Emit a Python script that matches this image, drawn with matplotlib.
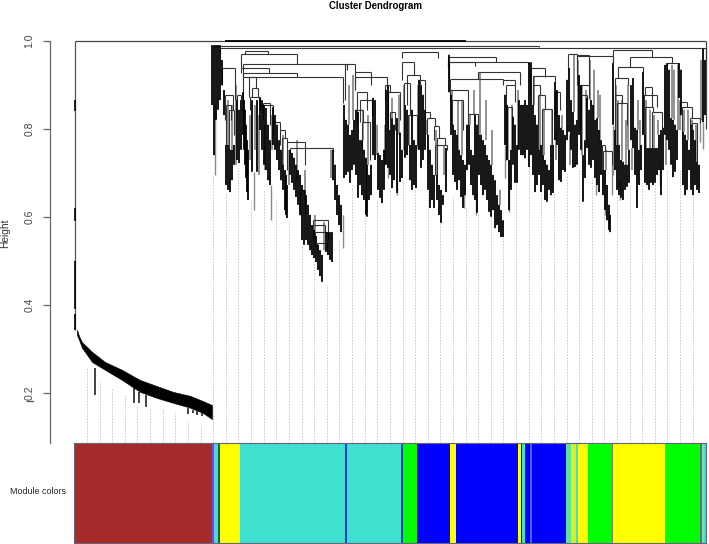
"""Cluster dendrogram with module colour bar."""
import matplotlib
matplotlib.use('Agg')
import matplotlib.pyplot as plt
from matplotlib.lines import Line2D
import numpy as np

plt.rcParams['font.family'] = ['Liberation Sans', 'DejaVu Sans']

TITLE = 'Cluster Dendrogram'
Y_LABEL = 'Height'
BAR_LABEL = 'Module colors'
Y_TICKS = [0.2, 0.4, 0.6, 0.8, 1.0]
Y_TICK_LABELS = ['0.2', '0.4', '0.6', '0.8', '1.0']

# first big branch: a wide band of leaves
band_x = [77, 79, 82, 92, 105, 122, 140, 157, 173, 190, 203, 212]
band_top = [.343, .329, .315, .293, .270, .252, .229, .215, .202, .193, .181, .172]
band_bot = [.331, .320, .302, .270, .252, .229, .202, .188, .177, .166, .154, .140]
outlier_x = [95, 134, 139, 146, 188, 193, 197, 202]
outlier_top = [.256, .211, .202, .195, .165, .161, .161, .155]
outlier_bot = [.195, .177, .177, .168, .152, .155, .150, .146]
trunk_top = [.865, .62, .50, .38]
trunk_bot = [.84, .59, .39, .343]

# dense leaf stems, by stretch of the tree
a_x = [212, 214, 216, 218, 220, 222, 224, 226, 228, 230,
       232, 234, 237, 239, 241, 243, 244, 245, 246, 247,
       248, 252, 257, 260, 262, 264, 266, 268, 270, 273,
       275, 277, 279, 281, 283, 285, 286, 287]
a_top = [.990, .990, .990, .990, .990, .956, .888, .763, .763, .752,
         .752, .763, .865, .843, .865, .883, .865, .843, .809, .774,
         .752, .865, .865, .870, .865, .854, .847, .809, .774, .849,
         .831, .809, .774, .752, .718, .706, .695, .672]
a_bot = [.854, .740, .820, .843, .865, .899, .831, .672, .661, .656,
         .683, .718, .729, .722, .752, .786, .752, .718, .688, .656,
         .638, .702, .702, .797, .752, .718, .706, .683, .672, .763,
         .752, .729, .706, .683, .661, .615, .604, .597]

t_x = [290, 292, 294, 296, 298, 300, 302, 304, 306, 308,
       310, 312, 314, 316, 318, 320, 322, 326, 328, 330,
       332, 333, 335, 337, 339, 341]
t_top = [.752, .745, .734, .718, .706, .695, .672, .661, .649, .627,
         .604, .581, .570, .556, .536, .524, .513, .565, .565, .565,
         .565, .752, .718, .672, .649, .627]
t_bot = [.695, .677, .661, .645, .627, .604, .547, .536, .547, .536,
         .524, .513, .506, .497, .479, .465, .452, .520, .513, .502,
         .497, .683, .638, .604, .581, .565]

b_x = [344, 346, 348, 350, 352, 354, 356, 358, 360, 362,
       364, 366, 367, 369, 371, 373, 375, 378, 380, 382,
       384, 386, 388, 390, 392, 394, 397, 400, 402,
       405, 407, 410, 412, 414, 416, 419, 421, 423, 425,
       428, 430, 432, 434, 437, 439, 441, 443, 446]
b_top = [.854, .820, .809, .786, .797, .820, .843, .838, .774, .774,
         .752, .734, .718, .695, .718, .870, .865, .745, .740, .729,
         .752, .888, .899, .797, .824, .809, .824, .791, .752,
         .854, .843, .763, .843, .774, .763, .911, .899, .877, .843,
         .786, .752, .718, .695, .695, .672, .661, .649, .756]
b_bot = [.688, .695, .702, .677, .706, .718, .695, .643, .672, .649,
         .638, .604, .600, .638, .649, .740, .729, .661, .643, .631,
         .661, .718, .711, .695, .665, .683, .654, .679, .688,
         .734, .740, .683, .661, .672, .665, .752, .711, .729, .752,
         .661, .620, .638, .620, .638, .604, .586, .627, .656]

c_x = [449, 451, 453, 455, 457, 459, 461, 463, 465, 467,
       469, 471, 473, 475, 477, 479, 481, 483, 485, 487,
       489, 491, 493, 495, 497, 499, 501, 503, 505, 507,
       509, 511, 513, 515, 517, 519, 521, 523, 525, 527,
       529, 531, 533, 535, 537, 539, 541, 543, 545, 547,
       549, 551, 553, 555, 557, 559, 561, 563, 565, 567,
       569, 571, 573, 575, 577, 579, 581, 583, 585, 587,
       589]
c_top = [.968, .877, .809, .797, .786, .752, .740, .729, .718, .809,
         .809, .752, .740, .831, .809, .786, .786, .774, .763, .740,
         .729, .718, .695, .683, .649, .627, .615, .592, .877, .854,
         .729, .752, .827, .809, .763, .865, .854, .854, .865, .854,
         .951, .951, .854, .831, .809, .752, .763, .740, .729, .718,
         .706, .763, .763, .906, .888, .831, .802, .797, .786, .911,
         .938, .865, .838, .809, .820, .922, .899, .740, .774, .870,
         .843]
c_bot = [.883, .786, .695, .679, .661, .683, .645, .620, .649, .706,
         .718, .672, .649, .638, .609, .695, .672, .649, .661, .638,
         .611, .600, .615, .574, .581, .565, .554, .554, .763, .729,
         .615, .661, .718, .677, .677, .752, .740, .740, .733, .752,
         .713, .740, .695, .656, .672, .695, .656, .672, .638, .634,
         .661, .649, .654, .774, .763, .683, .679, .706, .702, .774,
         .793, .752, .711, .713, .718, .786, .752, .634, .688, .756,
         .718]

d_x = [591, 593, 595, 597, 599, 601, 603, 605, 607, 609,
       610, 613, 615, 617, 619, 621, 623, 625, 627, 629,
       631, 633, 635, 637, 639, 641, 643, 645, 647, 649,
       651, 653, 655, 657, 659, 661, 663, 665, 667, 669,
       671, 673, 675, 677, 679, 681, 683, 685, 687, 689,
       691, 693, 695, 697, 699, 703, 705]
d_top = [.865, .854, .820, .824, .797, .774, .706, .706, .672, .627,
         .604, .949, .797, .763, .763, .729, .725, .718, .718, .752,
         .899, .915, .802, .797, .752, .763, .929, .786, .756, .756,
         .756, .756, .756, .756, .786, .797, .802, .945, .949, .934,
         .824, .820, .809, .797, .949, .934, .793, .786, .774, .752,
         .809, .797, .774, .725, .718, .983, .956]
d_bot = [.711, .729, .688, .672, .656, .695, .649, .615, .592, .570,
         .565, .809, .706, .661, .649, .643, .638, .661, .668, .677,
         .774, .756, .695, .620, .672, .706, .786, .677, .672, .661,
         .677, .672, .677, .695, .706, .649, .706, .786, .774, .752,
         .718, .690, .702, .729, .870, .831, .672, .649, .661, .706,
         .661, .649, .672, .661, .654, .815, .831]

# paler single stems below the dense part
gray_x = [215, 254, 271, 343, 509, 605, 612, 613, 700, 703,
          596, 397, 464, 476, 388, 505, 620, 660]
gray_top = [.854, .702, .672, .604, .729, .649, .718, .809, .824, .815,
            .688, .683, .683, .661, .718, .763, .683, .718]
gray_bot = [.695, .615, .592, .528, .611, .604, .649, .695, .770, .754,
            .649, .649, .620, .604, .688, .688, .638, .672]

# thinner stems above the dense part
mid_x = [228, 232, 236, 250, 255, 259, 265, 272, 283, 289,
         297, 305, 315, 324, 331, 349, 353, 363, 368, 377,
         385, 392, 399, 404, 409, 418, 427, 436, 444, 452,
         458, 462, 470, 474, 480, 486, 492, 500, 508, 512,
         518, 534, 540, 544, 552, 556, 562, 570, 574, 578,
         582, 586, 590, 594, 598, 600, 606, 616, 618, 622,
         626, 628, 632, 638, 640, 644, 646, 650, 654, 658,
         666, 672, 674, 678, 680, 684, 688, 692, 696, 701]
mid_top = [.865, .854, .899, .831, .854, .831, .809, .831, .786, .752,
           .774, .706, .604, .588, .752, .899, .922, .843, .831, .809,
           .809, .870, .877, .899, .831, .899, .820, .797, .763, .888,
           .865, .865, .831, .888, .929, .865, .797, .661, .849, .854,
           .888, .920, .877, .845, .843, .797, .831, .786, .968, .956,
           .899, .888, .956, .934, .888, .877, .752, .899, .865, .865,
           .820, .899, .756, .865, .820, .877, .865, .843, .831, .820,
           .786, .945, .934, .945, .865, .843, .843, .820, .809, .956]
mid_bot = [.763, .752, .718, .729, .752, .695, .706, .752, .718, .672,
           .683, .638, .547, .524, .688, .809, .820, .774, .718, .740,
           .718, .824, .786, .752, .763, .752, .786, .695, .695, .809,
           .752, .740, .809, .831, .786, .774, .718, .627, .729, .752,
           .752, .854, .752, .740, .763, .729, .800, .718, .838, .820,
           .740, .774, .865, .820, .824, .774, .706, .763, .763, .729,
           .718, .752, .706, .797, .752, .786, .756, .756, .756, .786,
           .718, .824, .820, .797, .797, .793, .774, .809, .725, .820]

# merges: each one a bar at merge_h with a leg down on both sides
merge_left = [214, 220, 245, 241, 243, 241, 243, 243, 249, 252,
              250, 260, 263, 273, 280, 282, 287, 290, 300, 313,
              313, 315, 317, 222, 225, 226, 229, 237, 345, 355,
              355, 357, 360, 357, 362, 385, 388, 390, 402, 402,
              407, 404, 408, 420, 425, 427, 434, 437, 435, 448,
              448, 449, 478, 450, 503, 506, 506, 450, 452, 468,
              530, 533, 533, 538, 542, 555, 568, 577, 580, 580,
              577, 613, 630, 618, 615, 615, 617, 644, 645, 645,
              652, 667, 680, 682, 690, 692, 603, 602]
merge_right = [539, 706, 268, 297, 347, 269, 297, 343, 256, 258,
               260, 273, 270, 280, 285, 287, 305, 333, 305, 328,
               325, 328, 327, 235, 233, 231, 234, 241, 355, 371,
               387, 367, 372, 363, 370, 390, 400, 395, 438, 414,
               420, 410, 417, 425, 430, 435, 439, 445, 447, 496,
               475, 528, 520, 503, 515, 515, 512, 468, 463, 478,
               545, 555, 540, 545, 552, 560, 577, 589, 589, 587,
               613, 652, 672, 643, 628, 622, 627, 657, 652, 653,
               662, 678, 687, 692, 700, 697, 612, 605]
merge_h = [.988, .983, .977, .970, .947, .938, .927, .918, .918, .892,
           .872, .854, .858, .815, .797, .779, .770, .756, .661, .592,
           .581, .565, .540, .938, .877, .854, .843, .877, .947, .929,
           .918, .883, .865, .843, .815, .899, .883, .838, .974, .952,
           .922, .904, .831, .911, .838, .824, .806, .779, .763, .963,
           .952, .952, .929, .913, .911, .899, .849, .888, .865, .833,
           .938, .920, .899, .877, .845, .883, .970, .968, .899, .877,
           .965, .979, .962, .940, .915, .877, .858, .877, .895, .849,
           .838, .949, .860, .849, .824, .813, .749, .763]
leg_left = [.983, .969, .969, .938, .918, .927, .918, .865, .872, .872,
            .843, .843, .820, .786, .763, .718, .756, .747, .604, .547,
            .547, .536, .524, .899, .820, .763, .752, .865, .865, .899,
            .888, .843, .815, .809, .752, .865, .797, .797, .961, .911,
            .854, .854, .763, .899, .820, .786, .774, .695, .695, .943,
            .943, .913, .913, .888, .899, .849, .729, .865, .809, .809,
            .877, .854, .854, .752, .740, .831, .938, .934, .877, .797,
            .899, .949, .940, .915, .820, .797, .763, .786, .877, .786,
            .756, .945, .831, .793, .809, .797, .706, .706]
leg_right = [.986, .956, .969, .947, .933, .927, .918, .858, .892, .872,
             .854, .815, .809, .797, .779, .706, .718, .747, .604, .565,
             .565, .547, .524, .865, .843, .820, .786, .865, .929, .899,
             .892, .843, .831, .815, .729, .883, .820, .797, .961, .922,
             .911, .831, .763, .838, .824, .806, .779, .763, .752, .952,
             .943, .947, .899, .911, .899, .860, .752, .833, .797, .786,
             .918, .906, .877, .845, .763, .843, .965, .899, .870, .865,
             .949, .962, .949, .929, .899, .858, .809, .849, .849, .838,
             .802, .945, .849, .824, .813, .725, .718, .749]

# dotted guides from the bar up to the tree
guide_x = [87, 100, 112, 125, 137, 150, 163, 175, 188, 201,
           213, 226, 238, 251, 264, 276, 289, 302, 314, 327,
           339, 352, 365, 377, 390, 403, 415, 428, 440, 453,
           466, 478, 491, 503, 516, 529, 541, 554, 567, 579,
           592, 604, 617, 630, 642, 655, 667, 680, 693, 706]
guide_top = [.258, .227, .211, .195, .172, .166, .163, .154, .138, .127,
             .695, .656, .718, .638, .661, .638, .592, .536, .502, .445,
             .547, .672, .604, .638, .661, .683, .661, .661, .588, .645,
             .620, .609, .600, .554, .677, .713, .656, .654, .702, .706,
             .688, .615, .649, .677, .677, .677, .706, .706, .649, .754]

# module colour bar
module_edges = [74, 212, 213.5, 216, 218, 219.5, 240, 345, 347, 401,
                403, 417, 450, 456, 518, 521, 522, 525, 530, 532,
                566, 571, 576, 578, 588, 612, 613, 664.5, 700, 702,
                703.5, 706]
module_colors = ['brown', '#6a50d8', '#70c0e8', 'turquoise', '#10606a', 'yellow',
                 'turquoise', '#0a40e0', 'turquoise', '#0a50a0', 'lime', 'blue',
                 'yellow', 'blue', 'yellow', 'blue', 'turquoise', 'blue',
                 '#5060e0', 'blue', '#60e0a0', '#d8f020', 'turquoise', 'yellow',
                 'lime', '#808060', 'yellow', 'lime', '#607088', '#70e8a0',
                 'turquoise']

TRUNK_X = 75
RIGHT_X = 706

W, H = 709, 544
fig = plt.figure(figsize=(W / 100, H / 100), dpi=100)
ax = fig.add_axes([74 / W, (H - 443) / H, 632 / W, 402.3 / H])
ax_bar = fig.add_axes([74 / W, (H - 543) / H, 632 / W, 100 / H])

ax.set_xlim(74, 706)
ax.set_ylim(0.0857, 1.0)

ax.vlines(guide_x, 0.0857, guide_top, colors='#c4c4c4', linewidth=0.7,
          linestyles=(0, (1.5, 1.5)), zorder=1)

# top line and trunk of the first branch
ax.hlines(1.0, TRUNK_X, RIGHT_X, colors='#444444', linewidth=0.9, clip_on=False, zorder=3)
ax.hlines(1.0, 225, 466, colors='black', linewidth=1.3, clip_on=False, zorder=3)
ax.vlines(TRUNK_X, 0.343, 1.0, colors='#555555', linewidth=0.9, clip_on=False, zorder=3)
for seg_top, seg_bot in zip(trunk_top, trunk_bot):
    ax.vlines(TRUNK_X, seg_bot, seg_top, colors='black', linewidth=1.2, clip_on=False, zorder=3)
ax.vlines(RIGHT_X, 0.80, 1.0, colors='#444444', linewidth=0.9, clip_on=False, zorder=3)

ax.fill_between(band_x, band_bot, band_top, color='black', linewidth=0.4, zorder=3)
ax.vlines(outlier_x, outlier_bot, outlier_top, colors='#222222', linewidth=1.2, zorder=3)

ax.vlines(gray_x, gray_bot, gray_top, colors='#8a8a8a', linewidth=1.0, zorder=2)
mid_lines = ax.vlines(mid_x, mid_bot, mid_top, colors='#555555', linewidth=0.9, zorder=2)
mid_lines.set_snap(False)

stem_x = np.concatenate([a_x, t_x, b_x, c_x, d_x])
stem_top = np.concatenate([a_top, t_top, b_top, c_top, d_top])
stem_bot = np.concatenate([a_bot, t_bot, b_bot, c_bot, d_bot])
stems = ax.vlines(stem_x, stem_bot, stem_top, colors='black', linewidth=1.3, zorder=4)
stems.set_snap(False)

ax.hlines(merge_h, merge_left, merge_right, colors='#333333', linewidth=0.8,
          clip_on=False, zorder=3)
ax.vlines(merge_left, leg_left, merge_h, colors='#333333', linewidth=0.8,
          clip_on=False, zorder=3)
ax.vlines(merge_right, leg_right, merge_h, colors='#333333', linewidth=0.8,
          clip_on=False, zorder=3)

for side in ['top', 'right', 'bottom']:
    ax.spines[side].set_visible(False)
ax.spines['left'].set_position(('outward', 17.3))
ax.spines['left'].set_color('#666666')
ax.spines['left'].set_linewidth(0.9)
ax.set_xticks([])
ax.set_yticks(Y_TICKS)
ax.set_yticklabels(Y_TICK_LABELS, rotation=90, va='center', fontsize=7.5, color='#444444')
ax.tick_params(axis='y', length=5, width=0.9, color='#666666', pad=6)

lefts = np.array(module_edges[:-1])
widths = np.diff(module_edges)
ax_bar.bar(lefts, np.ones(len(lefts)), widths, align='edge', color=module_colors, linewidth=0)
ax_bar.set_xlim(74, 706)
ax_bar.set_ylim(0, 1)
ax_bar.set_xticks([])
ax_bar.set_yticks([])
for spine in ax_bar.spines.values():
    spine.set_color('#666677')
    spine.set_linewidth(0.8)

fig.text(376 / W, 1 - 6 / H, TITLE, ha='center', va='center', fontsize=6.9, fontweight='bold')
fig.text(5.5 / W, 1 - 233 / H, Y_LABEL, ha='center', va='center', rotation=90,
         fontsize=7.3, color='#333333')
fig.text(38 / W, 1 - 491 / H, BAR_LABEL, ha='center', va='center', fontsize=6.4, color='#222222')
# small stray mark under the lowest tick label
fig.add_artist(Line2D([27 / W, 33 / W], [1 - 400.5 / H, 1 - 400.5 / H], color='#555555', linewidth=0.9))

fig.savefig('out.png', dpi=100)
